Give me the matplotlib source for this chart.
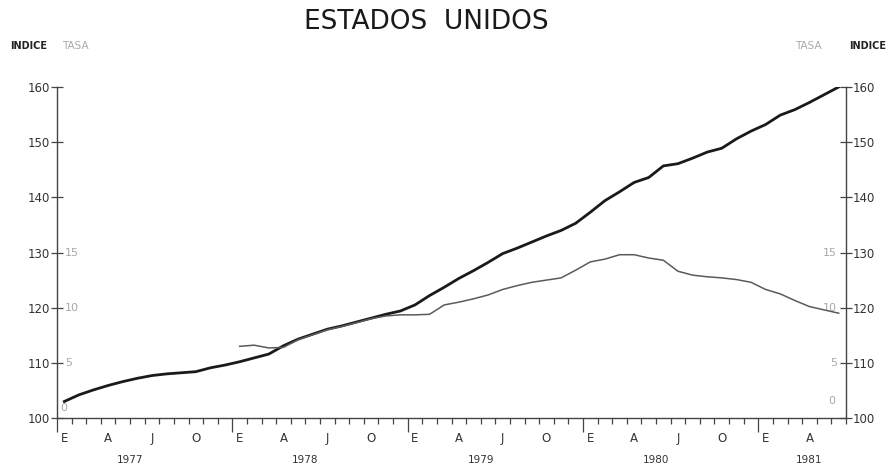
import numpy as np
import matplotlib.pyplot as plt
from matplotlib.transforms import blended_transform_factory

# indice mensual, enero 1977 a junio 1981
indice = [103.0, 104.2, 105.1, 105.9, 106.6, 107.2, 107.7, 108.0, 108.2, 108.4, 109.1, 109.6,
          110.2, 110.9, 111.6, 113.1, 114.3, 115.2, 116.1, 116.7, 117.4, 118.1, 118.8, 119.4,
          120.5, 122.2, 123.7, 125.3, 126.7, 128.2, 129.8, 130.8, 131.9, 133.0, 134.0, 135.3,
          137.3, 139.4, 141.0, 142.7, 143.6, 145.7, 146.1, 147.1, 148.2, 148.9, 150.6, 152.0,
          153.2, 154.9, 155.9, 157.2, 158.6, 160.0]
# tasa anual (%), enero 1978 a junio 1981
tasa = [6.5, 6.6, 6.35, 6.4, 7.1, 7.55, 8.0, 8.3, 8.65, 9.0, 9.25, 9.35,
        9.35, 9.4, 10.25, 10.5, 10.8, 11.15, 11.65, 12.0, 12.3, 12.5, 12.7, 13.4,
        14.15, 14.4, 14.8, 14.8, 14.5, 14.3, 13.3, 12.95, 12.8, 12.7, 12.55, 12.3,
        11.65, 11.25, 10.65, 10.1, 9.8, 9.5]
tasa_inicio = 12

anios = ["1977", "1978", "1979", "1980", "1981"]
anios_pos = [5, 17, 29, 41, 51.5]
letras_mes = ["E", "A", "J", "O"]
ticks_indice = [100, 110, 120, 130, 140, 150, 160]
ticks_tasa = [5, 10, 15]

eje = "#444444"
gris = "#a8a8a8"

fig = plt.figure(figsize=(8.94, 4.68), dpi=100)
ax = fig.add_axes([0.0638, 0.1068, 0.8825, 0.7073])

meses_x = np.arange(len(indice)) + 0.5
ax.plot(meses_x, indice, color="#1a1a1a", lw=2.0, zorder=3)
ax.set_xlim(0, 54)
ax.set_ylim(100, 160)

ax2 = ax.twinx()
ax2.set_ylim(0, 30)
ax2.plot(meses_x[tasa_inicio:], tasa, color="#5a5a5a", lw=1.1)
ax2.axis("off")

ax.spines["top"].set_visible(False)
for s in ["left", "right", "bottom"]:
    ax.spines[s].set_color(eje)
    ax.spines[s].set_linewidth(1.0)

ax.set_yticks(ticks_indice)
ax.tick_params(axis="y", direction="inout", length=8, width=0.9, color=eje,
               left=True, right=True, labelleft=True, labelright=True,
               labelsize=8.5, labelcolor="#333333", pad=1)

ax.set_xticks(range(0, 55, 12))
ax.set_xticks(range(0, 55), minor=True)
ax.tick_params(axis="x", which="major", direction="out", length=10, width=0.9,
               color=eje, labelbottom=False)
ax.tick_params(axis="x", which="minor", direction="out", length=4, width=0.9,
               color=eje)

# letras de los meses y años
tr = blended_transform_factory(ax.transData, ax.transAxes)
for m in range(0, 54, 3):
    ax.text(m + 0.5, -0.062, letras_mes[(m % 12) // 3], transform=tr,
            ha="center", va="center", fontsize=8.5, color="#333333")
for a, p in zip(anios, anios_pos):
    ax.text(p, -0.128, a, transform=tr, ha="center", va="center",
            fontsize=7.5, color="#333333")

# escala de la tasa, en gris dentro del gráfico
tr2l = blended_transform_factory(ax.transAxes, ax2.transData)
for t in ticks_tasa:
    ax.text(0.010, t, str(t), transform=tr2l, ha="left", va="center",
            fontsize=8, color=gris)
    ax.text(0.989, t, str(t), transform=tr2l, ha="right", va="center",
            fontsize=8, color=gris)
ax.text(0.004, 0.9, "0", transform=tr2l, ha="left", va="center", fontsize=8, color=gris)
ax.text(0.986, 1.5, "0", transform=tr2l, ha="right", va="center", fontsize=8, color=gris)

# encabezados
fig.text(0.477, 0.952, "ESTADOS  UNIDOS", ha="center", va="center", fontsize=19,
         color="#1a1a1a")
fig.text(0.011, 0.902, "INDICE", ha="left", va="center", fontsize=7,
         fontweight="bold", color="#222222")
fig.text(0.069, 0.902, "TASA", ha="left", va="center", fontsize=7.5, color=gris)
fig.text(0.889, 0.902, "TASA", ha="left", va="center", fontsize=7.5, color=gris)
fig.text(0.950, 0.902, "INDICE", ha="left", va="center", fontsize=7,
         fontweight="bold", color="#222222")

fig.savefig("out.png", dpi=100)
